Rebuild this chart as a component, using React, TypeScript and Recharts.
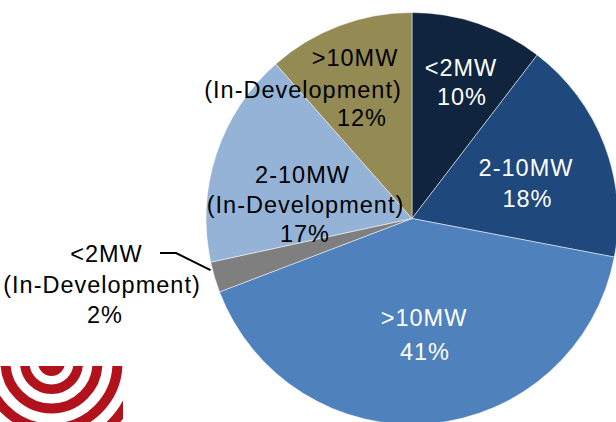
import { Cell, Pie, PieChart } from "recharts";

// installed capacity split by project size (share of total, %)
const CATEGORIES = [
  "<2MW",
  "2-10MW",
  ">10MW",
  "<2MW (In-Development)",
  "2-10MW (In-Development)",
  ">10MW (In-Development)",
];
const SHARES = [10.4, 17.6, 41.2, 2.4, 16.9, 11.5];

const SLICE_COLORS = ["#10243E", "#1F497D", "#4F81BD", "#7F7F7F", "#95B3D7", "#948A54"];
const LABEL_COLORS = ["#ffffff", "#ffffff", "#ffffff", "#000000", "#000000", "#000000"];

// per-line label anchors, relative to the pie centre
const LABEL_OFFSETS: [number, number][][] = [
  [[49, -142.5], [50, -113.5]],
  [[114, -42.5], [115.5, -11.8]],
  [[12, 107.5], [13, 141.5]],
  [[-305.5, 43.2], [-310, 74.5], [-307, 104.5]],
  [[-109.5, -35.8], [-106.5, -5.5], [-107, 23.5]],
  [[-57, -152.5], [-109, -120.5], [-50, -92.5]],
];
const LEADER_SLICE = 3;
const LEADER_ELBOW: [number, number][] = [[-252, 34.5], [-236, 34.5]];

const FONT = "'Liberation Sans', Arial, sans-serif";
const RADIAN = Math.PI / 180;

const data = CATEGORIES.map((name, i) => ({ name, value: SHARES[i] }));

function renderLabel(props: any) {
  const { cx, cy, index, percent, midAngle, endAngle, outerRadius } = props;
  const lines = [...CATEGORIES[index].split(/ (?=\()/), `${Math.round(percent * 100)}%`];
  const offsets = LABEL_OFFSETS[index];
  let leader = null;
  if (index === LEADER_SLICE) {
    const a = (midAngle + endAngle) / 2;
    const r = outerRadius + 2;
    const ex = cx + r * Math.cos(-a * RADIAN);
    const ey = cy + r * Math.sin(-a * RADIAN);
    const pts = LEADER_ELBOW.map(([dx, dy]) => `${cx + dx},${cy + dy}`).join(" ");
    leader = <polyline points={`${pts} ${ex},${ey}`} fill="none" stroke="#000" strokeWidth={2} />;
  }
  return (
    <g key={`label-${index}`}>
      {leader}
      <text
        fill={LABEL_COLORS[index]}
        fontFamily={FONT}
        fontSize={23.5}
        letterSpacing={1}
        textAnchor="middle"
      >
        {lines.map((line, i) => (
          <tspan key={i} x={cx + offsets[i][0]} y={cy + offsets[i][1]}>
            {line}
          </tspan>
        ))}
      </text>
    </g>
  );
}

function Logo() {
  const rings = [
    [26.75, 9.5],
    [46, 10],
    [66, 10],
    [86, 10],
  ];
  return (
    <svg
      width={123}
      height={56}
      style={{ position: "absolute", left: 0, top: 366 }}
    >
      <circle cx={51.5} cy={-3.5} r={13.5} fill="#B1121C" />
      {rings.map(([r, w]) => (
        <circle key={r} cx={51.5} cy={-3.5} r={r} fill="none" stroke="#B1121C" strokeWidth={w} />
      ))}
    </svg>
  );
}

export default function App() {
  return (
    <div style={{ position: "absolute", left: 0, top: 0, width: 616, height: 422, background: "#fff" }}>
      <PieChart width={616} height={422} margin={{ top: 0, right: 0, bottom: 0, left: 0 }}>
        <Pie
          data={data}
          dataKey="value"
          nameKey="name"
          cx={412}
          cy={218.5}
          outerRadius={206}
          startAngle={90}
          endAngle={-270}
          stroke="#ffffff"
          strokeWidth={0.5}
          label={renderLabel}
          labelLine={false}
          isAnimationActive={false}
        >
          {data.map((row, i) => (
            <Cell key={row.name} fill={SLICE_COLORS[i]} />
          ))}
        </Pie>
      </PieChart>
      <Logo />
    </div>
  );
}
